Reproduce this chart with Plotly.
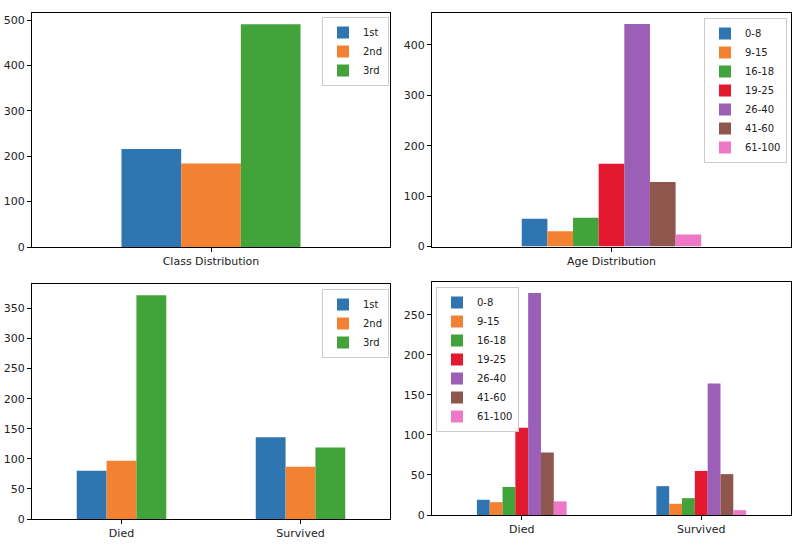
import plotly.graph_objects as go

# ---- data ----
class_labels = ["1st", "2nd", "3rd"]
class_counts = [216, 184, 491]

age_labels = ["0-8", "9-15", "16-18", "19-25", "26-40", "41-60", "61-100"]
age_counts = [55, 30, 57, 164, 441, 128, 24]

outcome_labels = ["Died", "Survived"]
class_by_outcome = {
    "1st": [80, 136],
    "2nd": [97, 87],
    "3rd": [372, 119],
}
age_by_outcome = {
    "0-8": [19, 36],
    "9-15": [16, 14],
    "16-18": [35, 21],
    "19-25": [109, 55],
    "26-40": [277, 164],
    "41-60": [78, 51],
    "61-100": [17, 6],
}

class_colors = ["#2e75b2", "#f28232", "#41a33a"]
age_colors = ["#2e75b2", "#f28232", "#41a33a", "#e31a2f", "#9c5fb8", "#8f564d", "#ec78c6"]

FONT = "DejaVu Sans"
W, H = 800, 550

fig = go.Figure()

# Panel 1: class distribution
for lab, val, col in zip(class_labels, class_counts, class_colors):
    fig.add_trace(go.Bar(x=["Class Distribution"], y=[val], name=lab,
                         marker=dict(color=col, line=dict(width=0)),
                         xaxis="x", yaxis="y", legend="legend"))

# Panel 2: age distribution
for lab, val, col in zip(age_labels, age_counts, age_colors):
    fig.add_trace(go.Bar(x=["Age Distribution"], y=[val], name=lab,
                         marker=dict(color=col, line=dict(width=0)),
                         xaxis="x2", yaxis="y2", legend="legend2"))

# Panel 3: class by outcome
for lab, col in zip(class_labels, class_colors):
    fig.add_trace(go.Bar(x=outcome_labels, y=class_by_outcome[lab], name=lab,
                         marker=dict(color=col, line=dict(width=0)),
                         xaxis="x3", yaxis="y3", legend="legend3"))

# Panel 4: age by outcome
for lab, col in zip(age_labels, age_colors):
    fig.add_trace(go.Bar(x=outcome_labels, y=age_by_outcome[lab], name=lab,
                         marker=dict(color=col, line=dict(width=0)),
                         xaxis="x4", yaxis="y4", legend="legend4"))


def px(x):
    return x / W


def py(y):
    return 1 - y / H


def xdom(a, b):
    return [px(a), px(b)]


def ydom(top, bottom):
    return [py(bottom), py(top)]


axis_common = dict(showline=True, mirror=True, linecolor="#000", linewidth=1,
                   ticks="outside", ticklen=4, tickwidth=1, tickcolor="#000",
                   showgrid=False, zeroline=False, automargin=False,
                   tickfont=dict(family=FONT, size=11, color="#222"))

panels = [
    # (xdomain, ydomain, xrange, yrange, dtick)
    (xdom(32, 390), ydom(13, 247), [-0.5, 0.5], [0, max(class_counts) * 1.05], 100),
    (xdom(432, 791), ydom(13, 246.5), [-0.5, 0.5], [0, max(age_counts) * 1.05], 100),
    (xdom(32, 390), ydom(284, 519), [-0.5, 1.5],
     [0, max(max(v) for v in class_by_outcome.values()) * 1.05], 50),
    (xdom(432, 791), ydom(282, 515), [-0.5, 1.5],
     [0, max(max(v) for v in age_by_outcome.values()) * 1.05], 50),
]

layout = dict(
    width=W, height=H,
    margin=dict(l=0, r=0, t=0, b=0, autoexpand=False),
    paper_bgcolor="white", plot_bgcolor="white",
    barmode="group", bargap=0.5, bargroupgap=0,
    font=dict(family=FONT, size=11, color="#222"),
)

for i, (xd, yd, xr, yr, dt) in enumerate(panels, start=1):
    sx = "" if i == 1 else str(i)
    layout["xaxis" + sx] = dict(axis_common, domain=xd, range=xr,
                                anchor="y" + sx, type="category")
    layout["yaxis" + sx] = dict(axis_common, domain=yd, range=yr,
                                anchor="x" + sx, dtick=dt, tick0=0)

leg_common = dict(bgcolor="rgba(255,255,255,0.9)", bordercolor="#cccccc",
                  borderwidth=1, font=dict(family=FONT, size=10, color="#222"),
                  tracegroupgap=0, itemwidth=30, traceorder="normal")

layout["legend"] = dict(leg_common, x=px(389), y=py(17), xanchor="right", yanchor="top")
layout["legend2"] = dict(leg_common, x=px(787), y=py(18), xanchor="right", yanchor="top")
layout["legend3"] = dict(leg_common, x=px(389), y=py(289), xanchor="right", yanchor="top")
layout["legend4"] = dict(leg_common, x=px(436), y=py(287), xanchor="left", yanchor="top")

fig.update_layout(**layout)
fig.write_html(
    "out.html",
    config={"displayModeBar": False},
    post_script="document.body.style.margin='0';document.body.style.overflow='hidden';",
)
